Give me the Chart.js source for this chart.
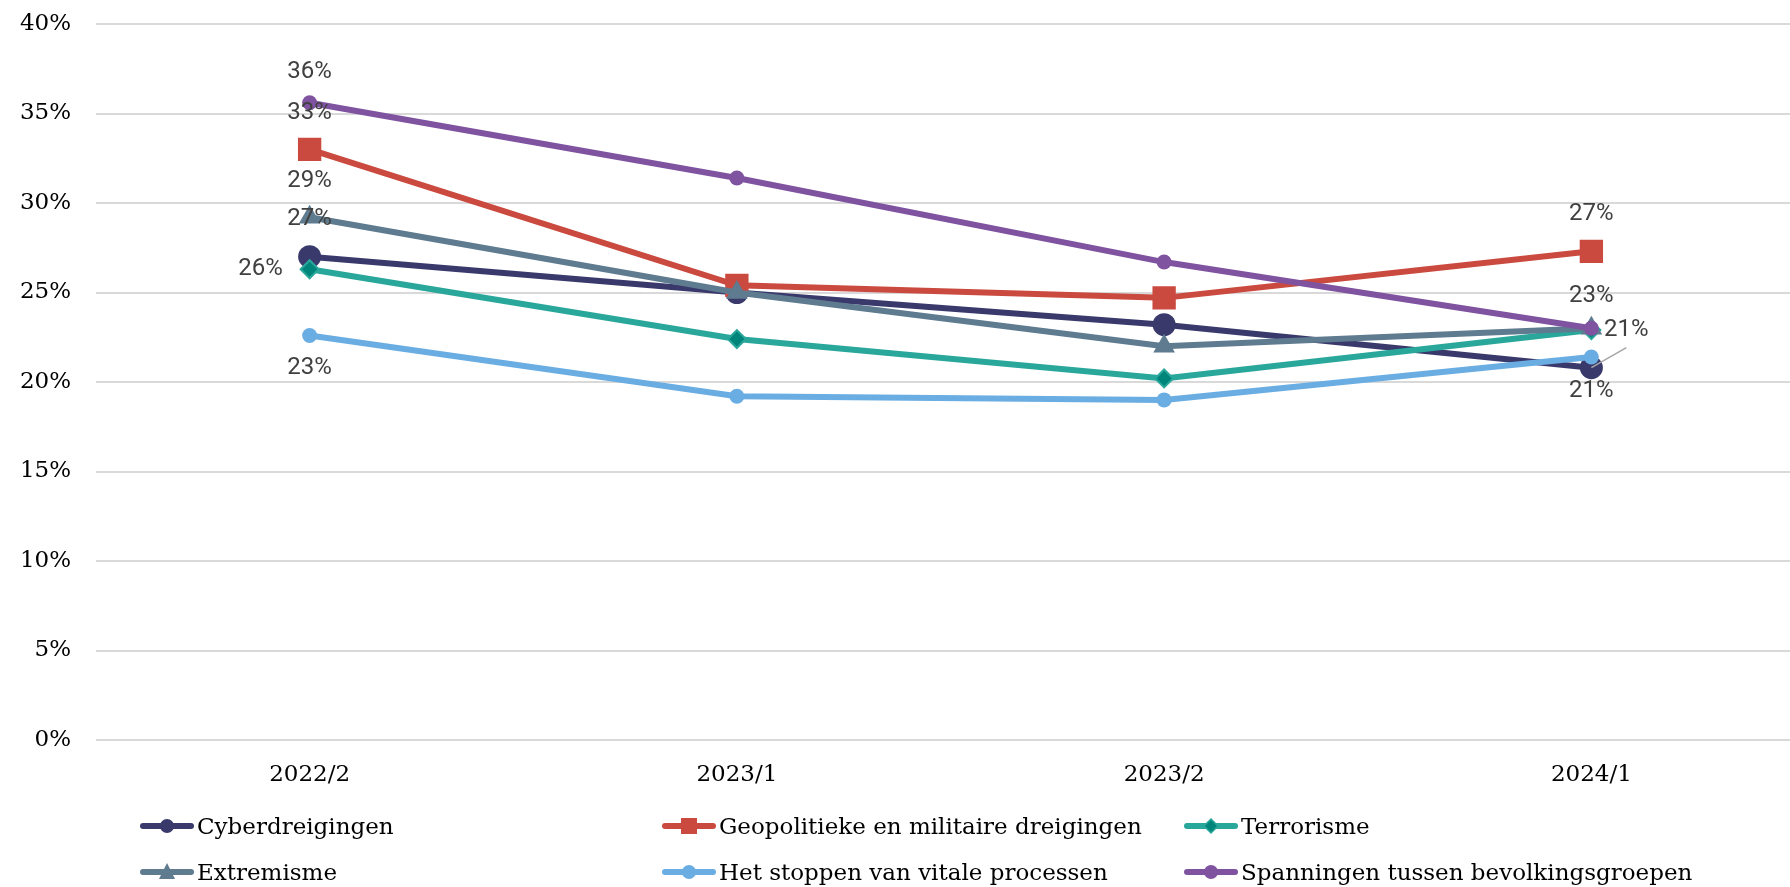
<!DOCTYPE html>
<html>
<head>
<meta charset="utf-8">
<script src="https://cdn.jsdelivr.net/npm/chart.js@4.4.1/dist/chart.umd.min.js"></script>
<style>
  html, body { margin: 0; padding: 0; background: #fff; overflow: hidden; }
  #wrap { position: relative; width: 1790px; height: 887px; overflow: hidden; }
  #riskChart { display: block; position: absolute; left: 0; top: 0; }
  #legend .item {
    position: absolute; height: 30px; display: flex; align-items: center;
    font-family: 'DejaVu Serif', serif; font-size: 23px; color: #000; white-space: nowrap;
  }
  #legend svg { margin-right: 3px; }
</style>
</head>
<body>
<div id="wrap">
  <canvas id="riskChart" width="1805" height="887"></canvas>
  <div id="legend"></div>
</div>
<script>
// categories and series (percent)
const periods = ['2022/2', '2023/1', '2023/2', '2024/1'];
const seriesNames = [
  'Cyberdreigingen',
  'Geopolitieke en militaire dreigingen',
  'Terrorisme',
  'Extremisme',
  'Het stoppen van vitale processen',
  'Spanningen tussen bevolkingsgroepen'
];
const cyber = [27.0, 25.0, 23.2, 20.8];
const geopolitiek = [33.0, 25.4, 24.7, 27.3];
const terrorisme = [26.3, 22.4, 20.2, 22.9];
const extremisme = [29.2, 25.0, 22.0, 23.0];
const vitaal = [22.6, 19.2, 19.0, 21.4];
const spanningen = [35.6, 31.4, 26.7, 23.0];
const yTicks = [0, 5, 10, 15, 20, 25, 30, 35, 40];

// styling per series
const styles = [
  { color: '#393a6b', fill: '#393a6b', point: 'circle', radius: 11.5 },
  { color: '#cb4a3f', fill: '#cb4a3f', point: 'rect', radius: 16.5 },
  { color: '#2aa79b', fill: '#00857a', point: 'rectRot', radius: 9 },
  { color: '#5f7b8f', fill: '#5f7b8f', point: 'triangle', radius: 12.5 },
  { color: '#6aade2', fill: '#6aade2', point: 'circle', radius: 7.5 },
  { color: '#7f53a0', fill: '#7f53a0', point: 'circle', radius: 7.5 }
];
const allSeries = [cyber, geopolitiek, terrorisme, extremisme, vitaal, spanningen];

// which points get a value label, and where (offset from the point, px)
const labelPlacement = {
  0: [[0, 0, -38], [3, 35, -38, true]],
  1: [[0, 0, -36], [3, 0, -37]],
  2: [[0, -49, 0]],
  3: [[0, 0, -36]],
  4: [[0, 0, 33], [3, 0, 34]],
  5: [[0, 0, -31], [3, 0, -32]]
};

const pointLabels = {
  id: 'pointLabels',
  afterDatasetsDraw(chart) {
    const ctx = chart.ctx;
    ctx.save();
    ctx.font = '24px Roboto';
    ctx.fillStyle = '#404040';
    ctx.textAlign = 'center';
    ctx.textBaseline = 'middle';
    chart.data.datasets.forEach((ds, di) => {
      const meta = chart.getDatasetMeta(di);
      (labelPlacement[di] || []).forEach(([i, dx, dy, leader]) => {
        const pt = meta.data[i];
        if (leader) {
          ctx.strokeStyle = '#a6a6a6';
          ctx.lineWidth = 1.5;
          ctx.beginPath();
          ctx.moveTo(pt.x + dx, pt.y + dy + 18);
          ctx.lineTo(pt.x, pt.y);
          ctx.stroke();
        }
        ctx.fillText(Math.round(ds.data[i]) + '%', pt.x + dx, pt.y + dy);
      });
    });
    ctx.restore();
  }
};

Chart.defaults.font.family = "'DejaVu Serif', serif";
Chart.defaults.font.size = 23;
Chart.defaults.color = '#000';

const ctx = document.getElementById('riskChart').getContext('2d');
new Chart(ctx, {
  type: 'line',
  data: {
    labels: periods,
    datasets: allSeries.map((values, i) => ({
      label: seriesNames[i],
      data: values,
      borderColor: styles[i].color,
      borderWidth: 6,
      backgroundColor: styles[i].fill,
      pointBackgroundColor: styles[i].fill,
      pointBorderColor: styles[i].color,
      pointBorderWidth: i === 2 ? 2 : 0,
      pointStyle: styles[i].point,
      pointRadius: styles[i].radius,
      tension: 0,
      fill: false,
      order: allSeries.length - i
    }))
  },
  options: {
    responsive: false,
    animation: false,
    layout: { autoPadding: false, padding: { top: 24, right: 0, bottom: 0, left: 0 } },
    plugins: {
      legend: { display: false },
      tooltip: { enabled: false }
    },
    scales: {
      x: {
        offset: true,
        afterFit: scale => { scale.height = 147; },
        grid: { display: false },
        border: { display: false },
        ticks: { padding: 13, color: '#000' }
      },
      y: {
        min: 0,
        max: 40,
        afterBuildTicks: scale => { scale.ticks = yTicks.map(v => ({ value: v })); },
        afterFit: scale => {
          scale.width = 96;
          scale.paddingTop = 14;
          scale.paddingBottom = 14;
        },
        grid: { color: '#d9d9d9', lineWidth: 2, drawTicks: false },
        border: { display: false },
        ticks: { padding: 25, color: '#000', callback: v => v + '%' }
      }
    }
  },
  plugins: [pointLabels]
});

// legend in three columns
const legendCols = [140, 662, 1184];
const legendRows = [826, 872];
function symbolSvg(s) {
  let mark = '';
  if (s.point === 'circle') mark = '<circle cx="27" cy="12" r="7" fill="' + s.fill + '"/>';
  if (s.point === 'rect') mark = '<rect x="19" y="4" width="16" height="16" fill="' + s.fill + '"/>';
  if (s.point === 'rectRot') mark = '<polygon points="27,5 34,12 27,19 20,12" fill="' + s.fill + '" stroke="' + s.color + '" stroke-width="1.5"/>';
  if (s.point === 'triangle') mark = '<polygon points="27,3 35,19 19,19" fill="' + s.fill + '"/>';
  return '<svg width="54" height="24" viewBox="0 0 54 24">' +
    '<line x1="3" y1="12" x2="51" y2="12" stroke="' + s.color + '" stroke-width="6" stroke-linecap="round"/>' +
    mark + '</svg>';
}
const legendEl = document.getElementById('legend');
seriesNames.forEach((name, i) => {
  const item = document.createElement('div');
  item.className = 'item';
  item.style.left = legendCols[i % 3] + 'px';
  item.style.top = (legendRows[Math.floor(i / 3)] - 15) + 'px';
  item.innerHTML = symbolSvg(styles[i]) + '<span>' + name + '</span>';
  legendEl.appendChild(item);
});
</script>
</body>
</html>
